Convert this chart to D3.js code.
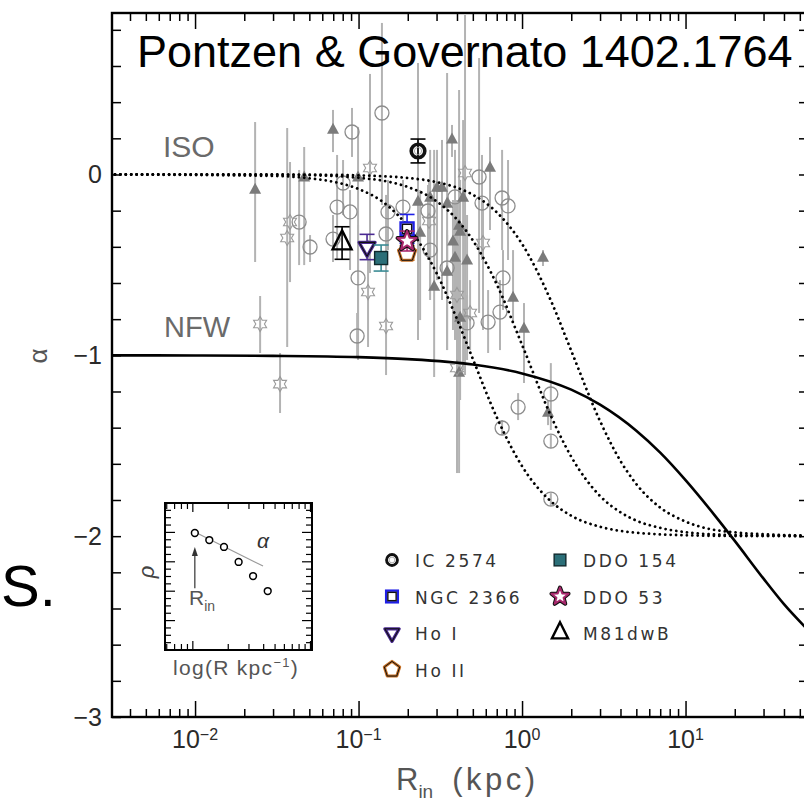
<!DOCTYPE html>
<html>
<head>
<meta charset="utf-8">
<script src="https://cdn.jsdelivr.net/npm/d3@7"></script>
<style>
html, body { margin: 0; padding: 0; background: #fff; }
svg { display: block; }
</style>
</head>
<body>
<svg id="chart" width="804" height="803"></svg>
<script>
// ---------------- data ----------------
// axis ticks
const xMajorTicks = [0.01, 0.1, 1, 10];
const xTickExponents = ['\u22122', '\u22121', '0', '1'];
const yTicks = [0, -1, -2, -3];
const yTickLabels = ['0', '\u22121', '\u22122', '\u22123'];

// NFW inner slope versus inner radius (solid curve)
const nfwR     = [0.003, 0.01, 0.03, 0.1, 0.2, 0.5, 1, 2, 3, 5, 7, 10, 15, 20, 30, 40, 60];
const nfwAlpha = [-1.000, -1.001, -1.003, -1.010, -1.021, -1.051, -1.100, -1.190, -1.273,
                  -1.417, -1.538, -1.690, -1.882, -2.026, -2.235, -2.376, -2.545];

// cored (ISO) profiles with three core radii (dotted curves)
const isoR  = [0.003, 0.03, 0.05, 0.08, 0.1, 0.15, 0.2, 0.3, 0.4, 0.5, 0.7, 1, 1.5, 2, 3, 4, 5, 7, 10, 20, 60];
const isoA1 = [0, -0.008, -0.021, -0.052, -0.080, -0.171, -0.286, -0.545, -0.800, -1.020, -1.342,
               -1.613, -1.807, -1.887, -1.948, -1.971, -1.981, -1.990, -1.995, -1.999, -2.000];
const isoA2 = [0, -0.002, -0.004, -0.011, -0.018, -0.039, -0.069, -0.148, -0.249, -0.364, -0.607,
               -0.942, -1.334, -1.561, -1.778, -1.868, -1.914, -1.954, -1.978, -1.994, -1.999];
const isoA3 = [0, 0, -0.001, -0.003, -0.005, -0.011, -0.019, -0.042, -0.073, -0.112, -0.209,
               -0.384, -0.697, -0.975, -1.364, -1.584, -1.712, -1.842, -1.919, -1.979, -1.998];

// literature measurements: [R_in (kpc), alpha, upper, lower]
const litCircles = [
  [0.0433, -0.263, 0.025, -0.501], [0.0505, -0.401, -0.335, -0.484], [0.0912, 0.235, 0.368, 0.097],
  [0.139, 0.340, 0.838, -0.169],   [0.0804, -0.047, 0.080, -0.224],  [0.0739, -0.180, 0.108, -0.473],
  [0.0887, -0.207, -0.086, -0.528],[0.0698, -0.357, -0.224, -0.484], [0.1514, -0.207, -0.030, -0.418],
  [0.1473, -0.329, -0.113, -0.528],[0.0993, -0.572, -0.279, -0.860], [0.0980, -0.893, -0.766, -1.015],
  [0.187, -0.180, -0.030, -0.362], [0.266, -0.202, -0.058, -0.473],  [0.274, -0.418, -0.279, -0.639],
  [0.389, -0.124, 0.136, -0.418],  [0.546, -0.014, 0.644, -0.766],   [0.569, -0.158, 0.108, -0.473],
  [0.755, -0.130, 0.136, -0.418],  [0.821, -0.174, 0.080, -0.473],   [0.348, -0.517, -0.335, -0.694],
  [0.765, -0.572, -0.418, -0.749], [0.733, -0.761, -0.584, -0.971],  [0.620, -0.816, -0.639, -0.987],
  [0.461, -0.821, -0.667, -1.026], [1.50, -1.214, -1.043, -1.413],   [0.946, -1.286, -1.209, -1.358],
  [0.755, -1.402, -1.358, -1.441], [1.50, -1.474, -1.441, -1.513],   [1.50, -1.795, -1.762, -1.833]
];
const litTriangles = [
  [0.0233, -0.086, 0.290, -0.484], [0.0465, -0.019, 0.152, -0.501], [0.0698, 0.246, 0.357, 0.124],
  [0.0993, -0.019, 0.263, -1.026], [0.373, 0.191, 0.274, 0.097],    [0.637, 0.036, 0.207, -0.307],
  [0.302, -0.075, 0.136, -0.584],  [0.324, -0.075, 0.191, -0.694],  [0.231, -0.152, 0.617, -0.915],
  [0.274, -0.130, 0.136, -0.694],  [0.348, -0.163, 0.561, -0.971],  [0.436, -0.130, 0.301, -1.081],
  [0.412, -0.285, 0.467, -1.098],  [0.418, -0.318, -0.030, -0.694], [0.238, -0.324, -0.086, -0.805],
  [0.378, -0.373, -0.141, -0.860], [0.389, -0.462, -0.196, -0.915], [0.461, -0.478, -0.224, -0.860],
  [0.348, -0.539, -0.307, -0.971], [0.290, -0.622, 0.136, -1.120],  [0.881, -0.683, -0.418, -0.816],
  [0.418, -0.794, -0.473, -1.247], [1.028, -0.855, -0.711, -1.153], [0.412, -1.098, -0.362, -1.651],
  [1.442, -1.319, -1.247, -1.386], [1.343, -0.462, -0.418, -0.506]
];
const litStars = [
  [0.0250, -0.827, -0.672, -0.987], [0.0331, -1.159, -0.987, -1.319], [0.0381, -0.263, 0.069, -0.595],
  [0.0366, -0.351, 0.257, -0.954],  [0.1175, 0.036, 0.556, -0.545],   [0.1143, -0.650, -0.362, -0.954],
  [0.1473, -0.838, -0.473, -1.109], [0.270, -0.257, -0.030, -0.473],  [0.448, 0.008, 0.882, -1.109],
  [0.577, -0.379, -0.141, -0.860],  [0.400, -0.666, -0.141, -1.192],  [0.481, -0.766, -0.584, -0.971],
  [0.400, -1.070, -0.694, -1.651]
];

// THINGS dwarfs
const galaxyNames = ['IC 2574', 'NGC 2366', 'Ho I', 'Ho II', 'DDO 154', 'DDO 53', 'M81dwB'];
const galaxyR     = [0.231, 0.198, 0.1127, 0.198, 0.1374, 0.198, 0.0793];
const galaxyAlpha = [0.130, -0.301, -0.401, -0.434, -0.462, -0.368, -0.379];
const galaxyErr   = [0.066, 0.080, 0.070, 0.040, 0.072, 0.055, 0.090];

// inset sketch of a density profile
const insetR   = [1.04, 1.38, 1.84, 2.45, 3.25, 4.33];
const insetRho = [0.796, 0.748, 0.701, 0.599, 0.503, 0.401];
const insetSlope = [[1.04, 0.803], [3.95, 0.571]];

// ---------------- layout ----------------
const plot = { left: 112, right: 808, top: 13, bottom: 717 };
const x = d3.scaleLog().domain([Math.pow(10, -2.508), Math.pow(10, 1.749)]).range([plot.left, plot.right]);
const y = d3.scaleLinear().domain([-3, 0.893]).range([plot.bottom, plot.top]);
const FONT = "'Liberation Sans', Arial, Helvetica, sans-serif";

const svg = d3.select('#chart');
svg.append('rect').attr('width', 804).attr('height', 803).attr('fill', '#fff');
svg.append('defs').append('clipPath').attr('id', 'plotClip').append('rect')
  .attr('x', plot.left).attr('y', plot.top)
  .attr('width', plot.right - plot.left).attr('height', plot.bottom - plot.top);

// symbol paths
function polyPath(pts) { return 'M' + pts.map(p => p[0].toFixed(2) + ',' + p[1].toFixed(2)).join('L') + 'Z'; }
function hexagram(r) {
  const pts = [];
  for (let i = 0; i < 12; i++) {
    const a = (-90 + i * 30) * Math.PI / 180, rr = i % 2 === 0 ? r : r * 0.577;
    pts.push([rr * Math.cos(a), rr * Math.sin(a)]);
  }
  return polyPath(pts);
}
function star5(r) {
  const pts = [];
  for (let i = 0; i < 10; i++) {
    const a = (-90 + i * 36) * Math.PI / 180, rr = i % 2 === 0 ? r : r * 0.42;
    pts.push([rr * Math.cos(a), rr * Math.sin(a)]);
  }
  return polyPath(pts);
}
function pentagon(r) {
  const pts = [];
  for (let i = 0; i < 5; i++) {
    const a = (-90 + i * 72) * Math.PI / 180;
    pts.push([r * Math.cos(a), r * Math.sin(a)]);
  }
  return polyPath(pts);
}
function triangle(w, h, down) {
  const s = down ? -1 : 1;
  return polyPath([[0, -s * h * 2 / 3], [w / 2, s * h / 3], [-w / 2, s * h / 3]]);
}

// draws a galaxy marker centred at (cx, cy)
function galaxySymbol(g, name, cx, cy, k) {
  const t = g.append('g').attr('transform', `translate(${cx},${cy})`);
  switch (name) {
    case 'IC 2574':
      t.append('circle').attr('r', 6.8 * k).attr('fill', 'none').attr('stroke', '#111').attr('stroke-width', 3.6 * k);
      t.append('circle').attr('r', 3.6 * k).attr('fill', 'none').attr('stroke', '#999').attr('stroke-width', 0.8);
      break;
    case 'NGC 2366':
      t.append('rect').attr('x', -6.5 * k).attr('y', -6.5 * k).attr('width', 13 * k).attr('height', 13 * k)
        .attr('fill', '#fff').attr('stroke', '#1f1fe6').attr('stroke-width', 2.4);
      t.append('rect').attr('x', -4.6 * k).attr('y', -4.6 * k).attr('width', 9.2 * k).attr('height', 9.2 * k)
        .attr('fill', '#fff').attr('stroke', '#111').attr('stroke-width', 1.4);
      break;
    case 'Ho I':
      t.append('path').attr('d', triangle(16 * k, 14 * k, true)).attr('fill', '#fff')
        .attr('stroke', '#4b2a92').attr('stroke-width', 3.2).attr('stroke-linejoin', 'round');
      t.append('path').attr('d', triangle(16 * k, 14 * k, true)).attr('fill', 'none')
        .attr('stroke', '#111').attr('stroke-width', 1.1).attr('stroke-linejoin', 'round');
      break;
    case 'Ho II':
      t.append('path').attr('d', pentagon(9 * k)).attr('fill', '#fff')
        .attr('stroke', '#c56f24').attr('stroke-width', 3).attr('stroke-linejoin', 'round');
      t.append('path').attr('d', pentagon(9 * k)).attr('fill', 'none')
        .attr('stroke', '#111').attr('stroke-width', 1).attr('stroke-linejoin', 'round');
      break;
    case 'DDO 154':
      t.append('rect').attr('x', -6.5 * k).attr('y', -6.5 * k).attr('width', 13 * k).attr('height', 13 * k)
        .attr('fill', '#2b6f78').attr('stroke', '#10292c').attr('stroke-width', 1.4);
      break;
    case 'DDO 53':
      t.append('path').attr('d', star5(10 * k)).attr('fill', '#fff')
        .attr('stroke', '#111').attr('stroke-width', 4).attr('stroke-linejoin', 'round');
      t.append('path').attr('d', star5(10 * k)).attr('fill', '#fff')
        .attr('stroke', '#a8286c').attr('stroke-width', 2).attr('stroke-linejoin', 'round');
      break;
    case 'M81dwB':
      t.append('path').attr('d', triangle(19 * k, 19 * k, false)).attr('fill', 'none')
        .attr('stroke', '#000').attr('stroke-width', 2.4).attr('stroke-linejoin', 'miter');
      break;
  }
}
const galaxyColor = {
  'IC 2574': '#000', 'NGC 2366': '#1f1fe6', 'Ho I': '#4b2a92', 'Ho II': '#c56f24',
  'DDO 154': '#3a8b94', 'DDO 53': '#a8286c', 'M81dwB': '#000'
};

// ---------------- plot contents ----------------
const body = svg.append('g').attr('clip-path', 'url(#plotClip)');

// grey error bars of literature points
const allLit = litCircles.concat(litTriangles, litStars);
body.append('g').selectAll('line').data(allLit).join('line')
  .attr('x1', d => x(d[0])).attr('x2', d => x(d[0]))
  .attr('y1', d => y(d[2])).attr('y2', d => y(d[3]))
  .attr('stroke', '#b3b3b3').attr('stroke-width', 2);

body.append('g').selectAll('circle').data(litCircles).join('circle')
  .attr('cx', d => x(d[0])).attr('cy', d => y(d[1])).attr('r', 7)
  .attr('fill', 'none').attr('stroke', '#8c8c8c').attr('stroke-width', 1.3);
body.append('g').selectAll('path').data(litTriangles).join('path')
  .attr('transform', d => `translate(${x(d[0])},${y(d[1])})`)
  .attr('d', triangle(12, 11, false)).attr('fill', '#7b7b7b');
body.append('g').selectAll('path').data(litStars).join('path')
  .attr('transform', d => `translate(${x(d[0])},${y(d[1])})`)
  .attr('d', hexagram(7.5)).attr('fill', 'none').attr('stroke', '#9a9a9a').attr('stroke-width', 1.1);

// model curves
const line = d3.line().x(d => x(d[0])).y(d => y(d[1])).curve(d3.curveMonotoneX);
[isoA1, isoA2, isoA3].forEach(a => {
  body.append('path').datum(isoR.map((r, i) => [r, a[i]])).attr('d', line)
    .attr('fill', 'none').attr('stroke', '#000').attr('stroke-width', 2.8)
    .attr('stroke-linecap', 'round').attr('stroke-dasharray', '0.01 5.4');
});
body.append('path').datum(nfwR.map((r, i) => [r, nfwAlpha[i]])).attr('d', line)
  .attr('fill', 'none').attr('stroke', '#000').attr('stroke-width', 2.6);

// dwarf galaxies with error bars
const drawOrder = ['M81dwB', 'Ho I', 'DDO 154', 'IC 2574', 'NGC 2366', 'Ho II', 'DDO 53'];
const gal = body.append('g');
drawOrder.forEach(name => {
  const i = galaxyNames.indexOf(name);
  const cx = x(galaxyR[i]), c = galaxyColor[name];
  const yt = y(galaxyAlpha[i] + galaxyErr[i]), yb = y(galaxyAlpha[i] - galaxyErr[i]);
  const eb = gal.append('g').attr('stroke', c).attr('stroke-width', 1.6);
  eb.append('line').attr('x1', cx).attr('x2', cx).attr('y1', yt).attr('y2', yb);
  eb.append('line').attr('x1', cx - 7.5).attr('x2', cx + 7.5).attr('y1', yt).attr('y2', yt);
  eb.append('line').attr('x1', cx - 7.5).attr('x2', cx + 7.5).attr('y1', yb).attr('y2', yb);
  galaxySymbol(gal, name, cx, y(galaxyAlpha[i]), 1);
});

// curve labels
svg.append('text').attr('x', 163).attr('y', 157).text('ISO')
  .attr('font-family', FONT).attr('font-size', 30).attr('fill', '#6a6a6a');
svg.append('text').attr('x', 164).attr('y', 337).text('NFW')
  .attr('font-family', FONT).attr('font-size', 29).attr('fill', '#6a6a6a');

// title
svg.append('text').attr('x', 137).attr('y', 67).text('Pontzen & Governato 1402.1764')
  .attr('font-family', FONT).attr('font-size', 45).attr('fill', '#000');

// ---------------- axes ----------------
const minorX = [];
for (let d = -3; d <= 1; d++) for (let k = 2; k < 10; k++) {
  const v = k * Math.pow(10, d);
  if (v > x.domain()[0] && v < x.domain()[1]) minorX.push(v);
}
const yMinor = d3.range(-3, 0.9, 0.2).map(v => +v.toFixed(1));

function bare(g) { g.select('.domain').remove(); g.selectAll('.tick line').attr('stroke', '#000').attr('stroke-width', 1.5); }
svg.append('g').attr('transform', `translate(0,${plot.bottom})`)
  .call(d3.axisBottom(x).tickValues(minorX).tickSize(-8).tickFormat('')).call(bare);
svg.append('g').attr('transform', `translate(0,${plot.bottom})`)
  .call(d3.axisBottom(x).tickValues(xMajorTicks).tickSize(-16).tickFormat('')).call(bare);
svg.append('g').attr('transform', `translate(0,${plot.top})`)
  .call(d3.axisTop(x).tickValues(minorX).tickSize(-8).tickFormat('')).call(bare);
svg.append('g').attr('transform', `translate(0,${plot.top})`)
  .call(d3.axisTop(x).tickValues(xMajorTicks).tickSize(-16).tickFormat('')).call(bare);
svg.append('g').attr('transform', `translate(${plot.left},0)`)
  .call(d3.axisLeft(y).tickValues(yMinor).tickSize(-9).tickFormat('')).call(bare);
svg.append('g').attr('transform', `translate(${plot.right},0)`)
  .call(d3.axisRight(y).tickValues(yMinor).tickSize(-9).tickFormat('')).call(bare);

svg.append('rect').attr('x', plot.left).attr('y', plot.top)
  .attr('width', plot.right - plot.left).attr('height', plot.bottom - plot.top)
  .attr('fill', 'none').attr('stroke', '#000').attr('stroke-width', 2.4);

// x tick labels 10^n
const xl = svg.append('g').attr('font-family', FONT).attr('fill', '#2a2a2a');
xMajorTicks.forEach((t, i) => {
  const tx = xl.append('text').attr('x', x(t)).attr('y', 748).attr('text-anchor', 'middle');
  tx.append('tspan').attr('font-size', 25).text('10');
  tx.append('tspan').attr('font-size', 16).attr('dy', -8).text(xTickExponents[i]);
});
// y tick labels
yTicks.forEach((t, i) => {
  xl.append('text').attr('x', 102).attr('y', y(t) + 9).attr('text-anchor', 'end')
    .attr('font-size', 25).text(yTickLabels[i]);
});

// axis titles
const xt = svg.append('text').attr('x', 396).attr('y', 790)
  .attr('font-family', FONT).attr('fill', '#555').attr('font-size', 31);
xt.append('tspan').text('R');
xt.append('tspan').attr('font-size', 19).attr('dy', 8).text('in');
xt.append('tspan').attr('dy', -8).attr('letter-spacing', 3.5).text('\u2002(kpc)');
svg.append('text').attr('transform', 'translate(47,356) rotate(-90)').attr('text-anchor', 'middle')
  .attr('font-family', FONT).attr('font-size', 26).attr('fill', '#555').text('\u03b1');

// slide text beside the plot
svg.append('text').attr('x', 1).attr('y', 606)
  .attr('font-family', FONT).attr('font-size', 58).attr('fill', '#000').text('S.');

// ---------------- legend ----------------
const legendCols = [['IC 2574', 'NGC 2366', 'Ho I', 'Ho II'], ['DDO 154', 'DDO 53', 'M81dwB']];
const legendX = [392, 560], legendY0 = 560, legendDY = 36.5;
const lg = svg.append('g');
legendCols.forEach((col, ci) => col.forEach((name, ri) => {
  const cy = legendY0 + ri * legendDY;
  galaxySymbol(lg, name, legendX[ci], cy, name === 'M81dwB' ? 0.85 : (name === 'IC 2574' ? 0.8 : 0.9));
  lg.append('text').attr('x', legendX[ci] + 23).attr('y', cy + 7)
    .attr('font-family', "'DejaVu Sans', sans-serif").attr('font-size', 17)
    .attr('letter-spacing', 2.6).attr('fill', '#333').text(name);
}));

// ---------------- inset ----------------
const inset = { left: 165, right: 312, top: 503, bottom: 650 };
const ix = d3.scaleLog().domain([0.58, 10.3]).range([inset.left, inset.right]);
const iy = d3.scaleLinear().domain([0, 1]).range([inset.bottom, inset.top]);
const ins = svg.append('g');
ins.append('rect').attr('x', inset.left).attr('y', inset.top)
  .attr('width', inset.right - inset.left).attr('height', inset.bottom - inset.top)
  .attr('fill', '#fff').attr('stroke', '#000').attr('stroke-width', 2);
const iTicks = [0.6, 0.7, 0.8, 0.9, 1, 2, 3, 4, 5, 6, 7, 8, 9, 10];
const iyTicks = d3.range(0.05, 1, 0.05);
const it = ins.append('g').attr('stroke', '#000').attr('stroke-width', 1.2);
iTicks.forEach(v => {
  const L = (v === 1 || v === 10) ? 9 : 6;
  it.append('line').attr('x1', ix(v)).attr('x2', ix(v)).attr('y1', inset.bottom).attr('y2', inset.bottom - L);
  it.append('line').attr('x1', ix(v)).attr('x2', ix(v)).attr('y1', inset.top).attr('y2', inset.top + L);
});
iyTicks.forEach((v, i) => {
  const L = (i % 4 === 3) ? 10 : 6;
  it.append('line').attr('x1', inset.left).attr('x2', inset.left + L).attr('y1', iy(v)).attr('y2', iy(v));
  it.append('line').attr('x1', inset.right).attr('x2', inset.right - L).attr('y1', iy(v)).attr('y2', iy(v));
});
ins.append('line').attr('x1', ix(insetSlope[0][0])).attr('y1', iy(insetSlope[0][1]))
  .attr('x2', ix(insetSlope[1][0])).attr('y2', iy(insetSlope[1][1]))
  .attr('stroke', '#999').attr('stroke-width', 1.2);
ins.append('g').selectAll('circle').data(insetR.map((r, i) => [r, insetRho[i]])).join('circle')
  .attr('cx', d => ix(d[0])).attr('cy', d => iy(d[1])).attr('r', 3.4)
  .attr('fill', '#fff').attr('stroke', '#000').attr('stroke-width', 1.5);
// arrow marking R_in
const ax0 = ix(insetR[0]);
ins.append('line').attr('x1', ax0).attr('x2', ax0).attr('y1', iy(0.42)).attr('y2', iy(0.66))
  .attr('stroke', '#333').attr('stroke-width', 1.2);
ins.append('path').attr('d', `M${ax0},${iy(0.70)}L${ax0 - 3},${iy(0.64)}L${ax0 + 3},${iy(0.64)}Z`).attr('fill', '#333');
ins.append('text').attr('x', 263).attr('y', 548).attr('text-anchor', 'middle')
  .attr('font-family', FONT).attr('font-size', 21).attr('font-style', 'italic').attr('fill', '#333').text('\u03b1');
const rin = ins.append('text').attr('x', 189).attr('y', 605)
  .attr('font-family', FONT).attr('font-size', 21).attr('fill', '#555');
rin.append('tspan').text('R');
rin.append('tspan').attr('font-size', 14).attr('dy', 6).text('in');
ins.append('text').attr('transform', 'translate(154,572) rotate(-90)').attr('text-anchor', 'middle')
  .attr('font-family', FONT).attr('font-size', 22).attr('font-style', 'italic').attr('fill', '#444').text('\u03c1');
const lt = ins.append('text').attr('x', 173).attr('y', 675)
  .attr('font-family', FONT).attr('font-size', 21).attr('letter-spacing', 1.3).attr('fill', '#555');
lt.append('tspan').text('log(R kpc');
lt.append('tspan').attr('font-size', 13).attr('dy', -8).text('\u22121');
lt.append('tspan').attr('dy', 8).text(')');
</script>
</body>
</html>
